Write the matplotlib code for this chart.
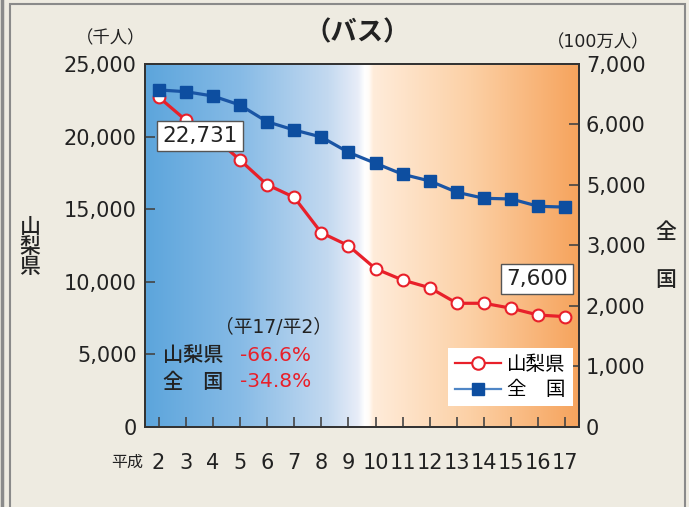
import matplotlib
matplotlib.use("Agg")
import matplotlib.pyplot as plt
import numpy as np
from matplotlib.lines import Line2D
from matplotlib.patches import Rectangle

plt.rcParams['font.family'] = ['DejaVu Sans', 'Noto Sans CJK JP']

# data (平成2 .. 平成17)
years = list(range(2, 18))
year_labels = [str(y) for y in years]
yamanashi = [22731, 21140, 20040, 18390, 16690, 15820, 13380, 12490,
             10900, 10120, 9590, 8520, 8520, 8180, 7710, 7600]      # 千人
zenkoku = [6500, 6466, 6383, 6209, 5887, 5727, 5592, 5297,
           5085, 4873, 4744, 4526, 4410, 4397, 4256, 4240]          # 100万人
left_ticks = [0, 5000, 10000, 15000, 20000, 25000]
right_max = 7000
# the original right axis is labelled like this (4,000 missing)
right_tick_labels = ['0', '1,000', '2,000', '3,000', '5,000', '6,000', '7,000']

red = '#E8202A'
blue = '#0D4EA0'
bg = '#EEEBE1'

fig = plt.figure(figsize=(6.89, 5.07), dpi=100, facecolor=bg)

# outer frame lines
fig.patches.append(Rectangle((10/689, -0.05), 675/689, 1.05 - 4/507, transform=fig.transFigure,
                             fill=False, ec='#8a8a8a', lw=1.5))
fig.lines.append(Line2D([2/689, 2/689], [0, 1], transform=fig.transFigure, color='#8a8a8a', lw=2.5))

ax = fig.add_axes([0.2104, 0.1578, 0.6299, 0.716])
ax2 = ax.twinx()

# background gradient: blue -> white -> peach -> orange
stops = [(0.0, (92, 165, 220)), (0.22, (135, 187, 230)), (0.42, (195, 217, 240)),
         (0.49, (232, 237, 248)), (0.505, (255, 255, 255)), (0.515, (255, 252, 248)),
         (0.525, (255, 236, 218)), (0.75, (252, 208, 165)), (1.0, (246, 163, 92))]
xs = np.linspace(0, 1, 600)
grad = np.zeros((1, len(xs), 3))
for c in range(3):
    grad[0, :, c] = np.interp(xs, [s[0] for s in stops], [s[1][c] for s in stops]) / 255
ax.imshow(grad, extent=(0, 1, 0, 1), transform=ax.transAxes, aspect='auto', zorder=0)

ax.plot(years, yamanashi, color=red, lw=2.3, marker='o', ms=8.5, mfc='white',
        mec=red, mew=1.5, zorder=3)
ax2.plot(years, zenkoku, color='#1A55A5', lw=2.3, marker='s', ms=8.5, mfc=blue,
         mec=blue, zorder=3)

ax.set_xlim(1.5, 17.5)
ax.set_ylim(0, left_ticks[-1])
ax2.set_ylim(0, right_max)

ax.set_xticks(years)
ax.set_xticklabels(year_labels)
ax.set_yticks(left_ticks)
ax.set_yticklabels([f'{v:,}' for v in left_ticks])
ax2.set_yticks(np.linspace(0, right_max, len(right_tick_labels)))
ax2.set_yticklabels(right_tick_labels)

ax.tick_params(axis='both', direction='in', length=7, width=1.2, color='#444',
               labelsize=15, labelcolor='#222')
ax.tick_params(axis='x', pad=19)
ax.tick_params(axis='y', pad=6)
ax2.tick_params(axis='y', direction='in', length=7, width=1.2, color='#444',
                labelsize=15, labelcolor='#222', pad=5)

for a in (ax, ax2):
    for s in a.spines.values():
        s.set_color('#333')
        s.set_linewidth(1.3)

# value boxes
box = dict(boxstyle='square,pad=0.25', fc='white', ec='#555', lw=1)
ax2.text(3.52, 20040, f'{yamanashi[0]:,}', transform=ax.transData, ha='center', va='center',
         fontsize=15.5, color='#222', bbox=box, zorder=5)
ax2.text(15.95, 10190, f'{yamanashi[-1]:,}', transform=ax.transData, ha='center', va='center',
         fontsize=15.5, color='#222', bbox=box, zorder=5)

# change-rate note
ax2.text(0.297, 0.275, '（平17/平2）', transform=ax.transAxes, ha='center', va='center',
         fontsize=13.5, color='#222')
ax2.text(0.041, 0.198, '山梨県', transform=ax.transAxes, ha='left', va='center',
         fontsize=14.5, color='#222', weight='medium')
ax2.text(0.219, 0.198, '-66.6%', transform=ax.transAxes, ha='left', va='center',
         fontsize=14.5, color=red)
ax2.text(0.041, 0.124, '全\u3000国', transform=ax.transAxes, ha='left', va='center',
         fontsize=14.5, color='#222', weight='medium')
ax2.text(0.219, 0.124, '-34.8%', transform=ax.transAxes, ha='left', va='center',
         fontsize=14.5, color=red)

handles = [Line2D([], [], color=red, lw=1.6, marker='o', ms=9, mfc='white', mec=red, mew=1.5),
           Line2D([], [], color='#4F86C6', lw=1.6, marker='s', ms=9, mfc=blue, mec=blue)]
leg = ax2.legend(handles, ['山梨県', '全\u3000国'], loc='upper left', bbox_to_anchor=(0.698, 0.218),
                 frameon=True, fancybox=False, edgecolor='none', facecolor='white', framealpha=1,
                 fontsize=14, handlelength=2.4, borderpad=0.35, labelspacing=0.35,
                 handletextpad=0.3, borderaxespad=0)
leg.set_zorder(6)

# titles and axis captions
fig.text(357/689, 1 - 33/507, '（バス）', ha='center', va='center', fontsize=19,
         weight='bold', color='#222')
fig.text(111/689, 1 - 38/507, '（千人）', ha='center', va='center', fontsize=12.5, color='#222')
fig.text(598/689, 1 - 42/507, '（100万人）', ha='center', va='center', fontsize=12.5, color='#222')
fig.text(127/689, 1 - 462/507, '平成', ha='center', va='center', fontsize=11.5, color='#222')
fig.text(30/689, 1 - 247/507, '山\n梨\n県', ha='center', va='center', fontsize=15,
         linespacing=1.0, color='#222', weight='medium')
fig.text(666/689, 1 - 232/507, '全', ha='center', va='center', fontsize=15, color='#222',
         weight='medium')
fig.text(666/689, 1 - 280/507, '国', ha='center', va='center', fontsize=15, color='#222',
         weight='medium')

fig.savefig('out.png', dpi=100, facecolor=bg)
